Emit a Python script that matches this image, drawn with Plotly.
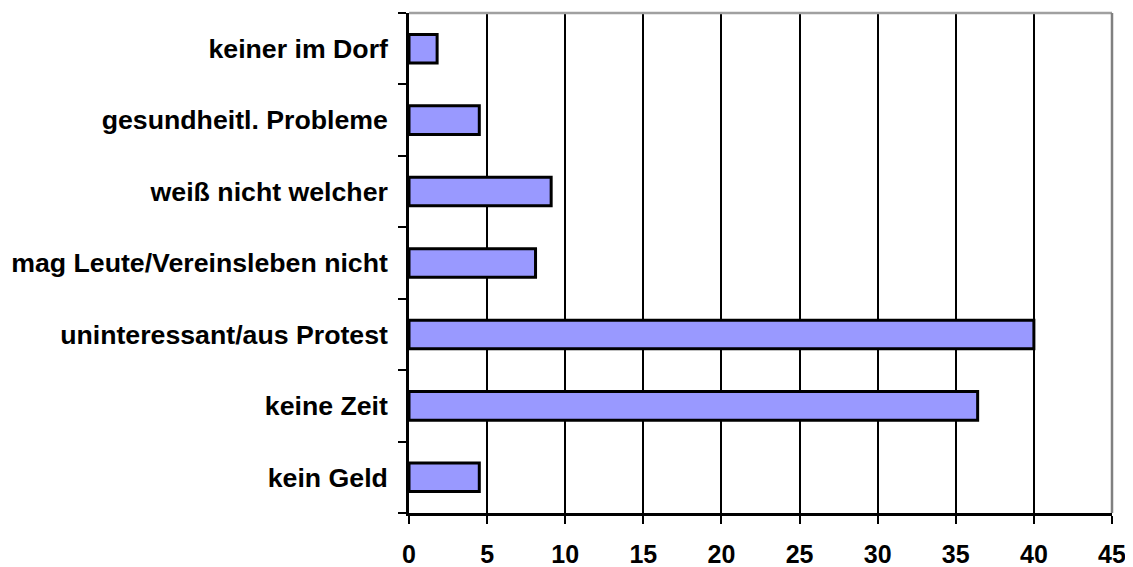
import plotly.graph_objects as go

categories = ['kein Geld', 'keine Zeit', 'uninteressant/aus Protest',
              'mag Leute/Vereinsleben nicht', 'weiß nicht welcher',
              'gesundheitl. Probleme', 'keiner im Dorf']
values = [4.5, 36.4, 40.0, 8.1, 9.1, 4.5, 1.8]
x_ticks = [0, 5, 10, 15, 20, 25, 30, 35, 40, 45]

fig = go.Figure()
fig.add_trace(go.Bar(
    y=categories, x=values, orientation='h', width=0.4,
    marker=dict(color='#9999ff', line=dict(color='black', width=3)),
))

# page body adds an 8px offset, so the figure is 8px smaller than the window
fig.update_layout(
    width=1125, height=559,
    margin=dict(l=401, r=21, t=5, b=54),
    plot_bgcolor='white', paper_bgcolor='white',
    showlegend=False,
    font=dict(family='Liberation Sans, Arial', color='black'),
    shapes=[
        dict(type='line', xref='paper', yref='paper', x0=0, x1=1, y0=1, y1=1,
             line=dict(color='#a0a0a0', width=2.5), layer='above'),
        dict(type='line', xref='paper', yref='paper', x0=1, x1=1, y0=0, y1=1,
             line=dict(color='#808080', width=2.5), layer='above'),
    ],
)
fig.update_xaxes(
    range=[0, 45], tickvals=x_ticks, showgrid=True, gridcolor='black', gridwidth=2,
    showline=True, linecolor='black', linewidth=2.5,
    ticks='outside', ticklen=8, tickwidth=2, tickcolor='black',
    tickfont=dict(size=25, weight='bold'), ticklabelstandoff=9, zeroline=False,
    automargin=False,
)
fig.update_yaxes(
    type='category', showgrid=False, showline=True, linecolor='black', linewidth=2.5,
    ticks='outside', tickson='boundaries', ticklen=8, tickwidth=2, tickcolor='black',
    tickfont=dict(size=26.7, weight='bold'), ticklabelstandoff=13,
    automargin=False,
)

fig.write_html("out.html")
